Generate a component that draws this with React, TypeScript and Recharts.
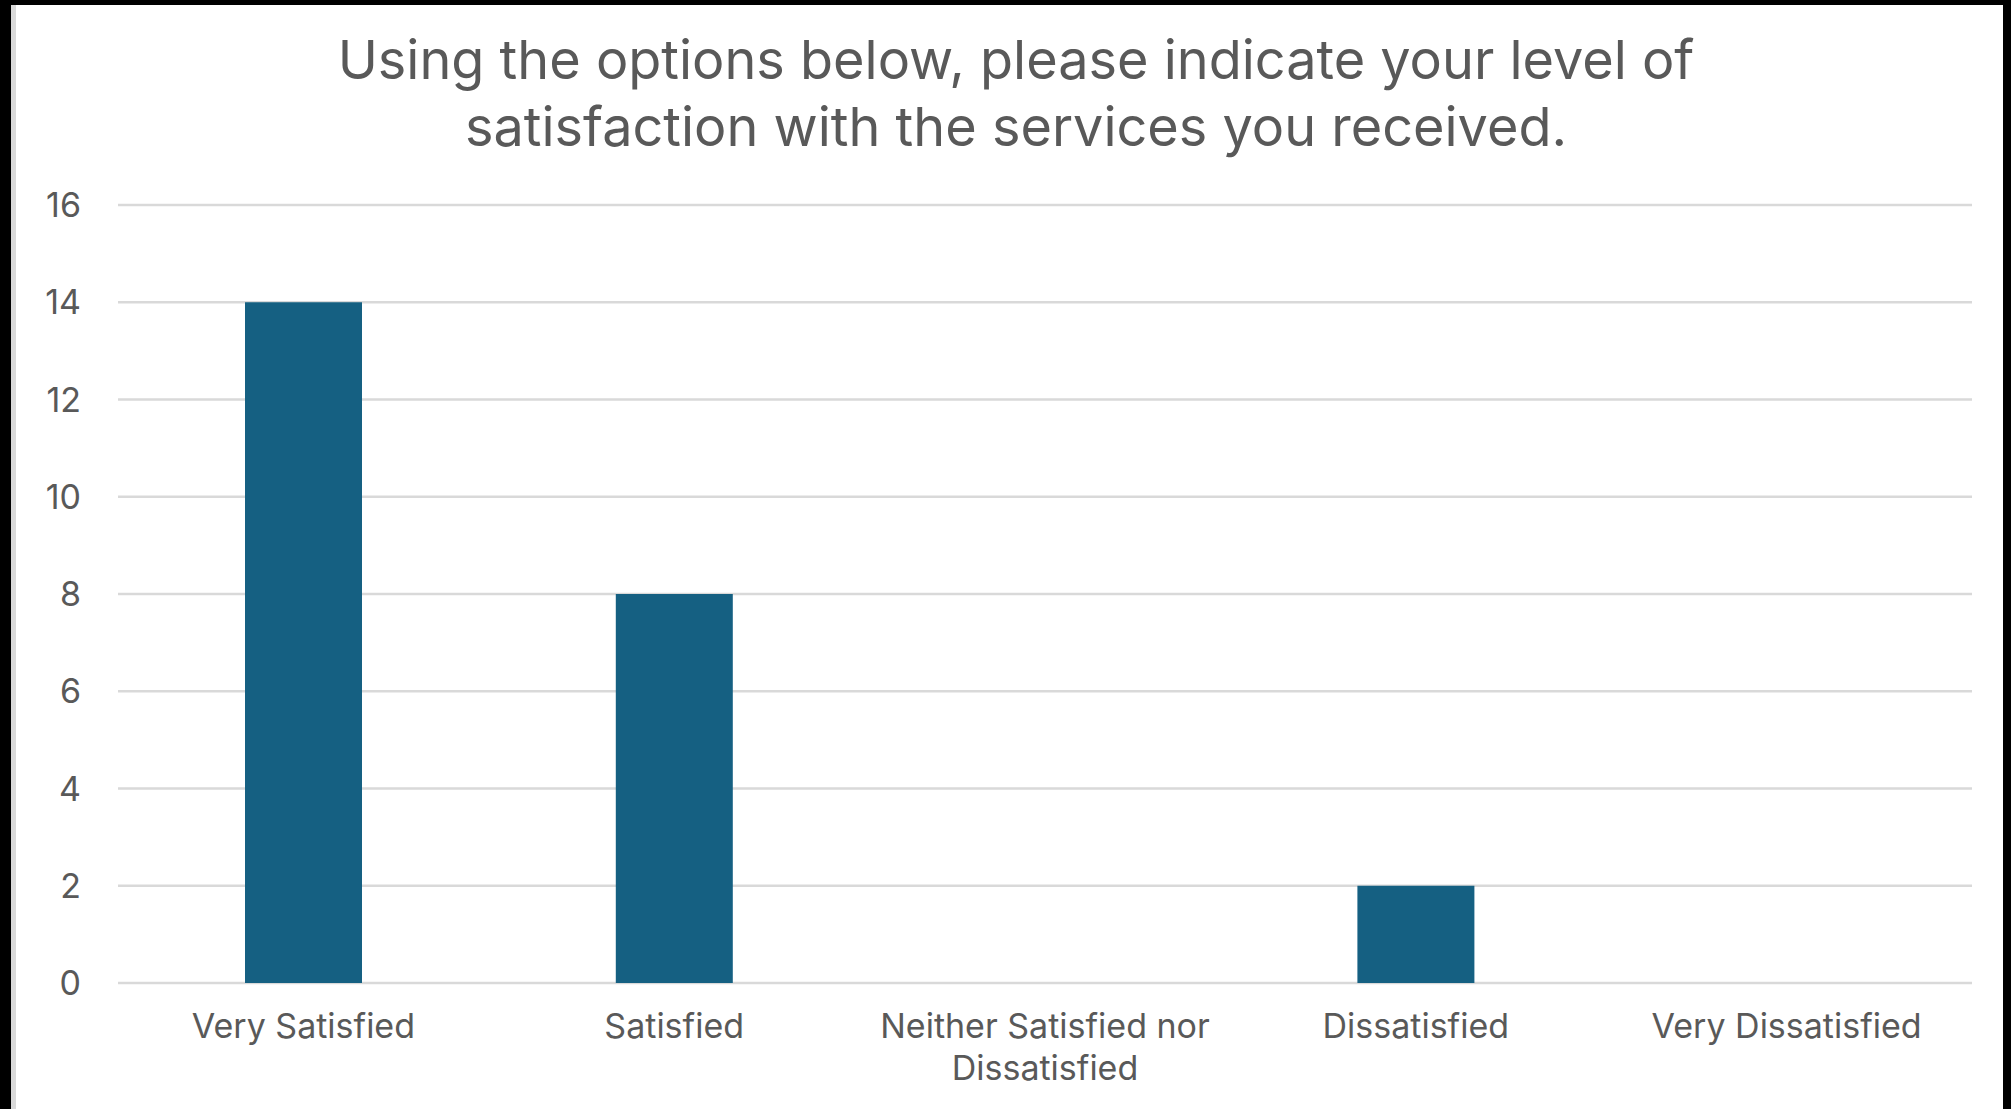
import { BarChart, Bar, XAxis, YAxis, CartesianGrid } from "recharts";

const categories = [
  "Very Satisfied",
  "Satisfied",
  "Neither Satisfied nor Dissatisfied",
  "Dissatisfied",
  "Very Dissatisfied",
];
const responses = [14, 8, 0, 2, 0];
const yTicks = [0, 2, 4, 6, 8, 10, 12, 14, 16];
const titleLines = [
  "Using the options below, please indicate your level of",
  "satisfaction with the services you received.",
];

const chartData = categories.map((name, i) => ({ name, value: responses[i] }));

const FONT = "Inter, 'Liberation Sans', sans-serif";
const TEXT_COLOR = "#595959";
const BAR_COLOR = "#156082";
const GRID_COLOR = "#d9d9d9";

// split a label into lines of at most ~22 chars, like the office chart does
function wrapLabel(label: string, maxChars = 22) {
  const words = label.split(" ");
  const lines: string[] = [];
  let cur = "";
  for (const w of words) {
    const next = cur ? `${cur} ${w}` : w;
    if (next.length > maxChars && cur) {
      lines.push(cur);
      cur = w;
    } else {
      cur = next;
    }
  }
  if (cur) lines.push(cur);
  return lines;
}

function CategoryTick(props: any) {
  const { x, y, payload } = props;
  const lines = wrapLabel(String(payload.value));
  return (
    <text x={x} y={y} textAnchor="middle" fill={TEXT_COLOR} fontSize={34} fontFamily={FONT}>
      {lines.map((line, i) => (
        <tspan key={i} x={x} y={y + 55 + i * 42}>
          {line}
        </tspan>
      ))}
    </text>
  );
}

export default function App() {
  return (
    <div
      style={{
        position: "absolute",
        left: 0,
        top: 0,
        width: 2011,
        height: 1109,
        background: "#000",
        overflow: "hidden",
      }}
    >
      <div
        style={{
          position: "absolute",
          left: 11,
          top: 5,
          width: 1987,
          height: 1104,
          background: "#fff",
          borderLeft: `5px solid ${GRID_COLOR}`,
        }}
      />
      <div
        style={{
          position: "absolute",
          left: 0,
          top: 26,
          width: 2032,
          textAlign: "center",
          fontFamily: FONT,
          fontSize: 54,
          lineHeight: "67px",
          color: TEXT_COLOR,
        }}
      >
        {titleLines.map((line) => (
          <div key={line}>{line}</div>
        ))}
      </div>
      <div style={{ position: "absolute", left: 0, top: 0 }}>
        <BarChart
          width={2011}
          height={1109}
          data={chartData}
          margin={{ top: 205, right: 39, left: 0, bottom: 96 }}
        >
          <CartesianGrid vertical={false} stroke={GRID_COLOR} strokeWidth={2.5} />
          <XAxis
            dataKey="name"
            height={30}
            axisLine={false}
            tickLine={false}
            tickSize={0}
            tickMargin={0}
            interval={0}
            tick={<CategoryTick />}
          />
          <YAxis
            width={118}
            domain={[0, 16]}
            ticks={yTicks}
            axisLine={false}
            tickLine={false}
            tickSize={0}
            tickMargin={37}
            tick={{ fill: TEXT_COLOR, fontSize: 34, fontFamily: FONT }}
          />
          <Bar dataKey="value" fill={BAR_COLOR} barSize={117} isAnimationActive={false} />
        </BarChart>
      </div>
    </div>
  );
}
